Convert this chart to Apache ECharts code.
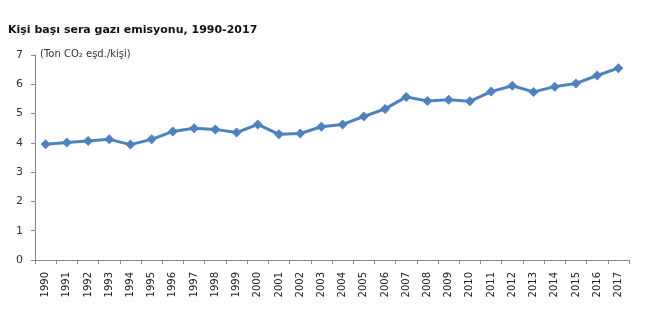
<!DOCTYPE html>
<html>
<head>
<meta charset="utf-8">
<script src="https://cdn.jsdelivr.net/npm/echarts@6/dist/echarts.min.js"></script>
<style>
html,body{margin:0;padding:0;background:#fff;}
#c{width:659px;height:323px;}
</style>
</head>
<body>
<div id="c"></div>
<script>
var years = ["1990","1991","1992","1993","1994","1995","1996","1997","1998","1999","2000","2001","2002","2003","2004","2005","2006","2007","2008","2009","2010","2011","2012","2013","2014","2015","2016","2017"];
var emissions = [3.95,4.01,4.06,4.12,3.94,4.12,4.39,4.50,4.46,4.35,4.63,4.29,4.32,4.55,4.63,4.90,5.16,5.57,5.43,5.47,5.42,5.75,5.95,5.74,5.92,6.03,6.30,6.55];
var yTicks = [0,1,2,3,4,5,6,7];
var titleText = "Kişi başı sera gazı emisyonu, 1990-2017";
var unitText = "(Ton CO₂ eşd./kişi)";

var chart = echarts.init(document.getElementById('c'), null, {renderer:'canvas'});
chart.setOption({
  animation:false,
  backgroundColor:'#fff',
  title:{
    text:titleText,
    left:3, top:20,
    textStyle:{fontFamily:'DejaVu Sans', fontWeight:'bold', fontSize:11, color:'#111'}
  },
  graphic:[{
    type:'text', left:40, top:49,
    style:{text:unitText, font:'10px "DejaVu Sans"', fill:'#333'}
  }],
  grid:{left:35, right:30, top:55, bottom:63, containLabel:false},
  xAxis:{
    type:'category', data:years, boundaryGap:true,
    axisLine:{lineStyle:{color:'#888', width:1}},
    axisTick:{show:true, alignWithLabel:false, length:4, lineStyle:{color:'#888'}},
    axisLabel:{rotate:90, interval:0, fontFamily:'DejaVu Sans', fontSize:10, color:'#222', margin:12}
  },
  yAxis:{
    type:'value', min:yTicks[0], max:yTicks[yTicks.length-1], interval:1,
    splitLine:{show:false},
    axisLine:{show:true, lineStyle:{color:'#888', width:1}},
    axisTick:{show:true, length:4, lineStyle:{color:'#888'}},
    axisLabel:{fontFamily:'DejaVu Sans', fontSize:11, color:'#333', margin:12}
  },
  series:[{
    type:'line', data:emissions,
    symbol:'diamond', symbolSize:10,
    lineStyle:{color:'#4F81BD', width:3},
    itemStyle:{color:'#4F81BD'}
  }]
});
</script>
</body>
</html>
